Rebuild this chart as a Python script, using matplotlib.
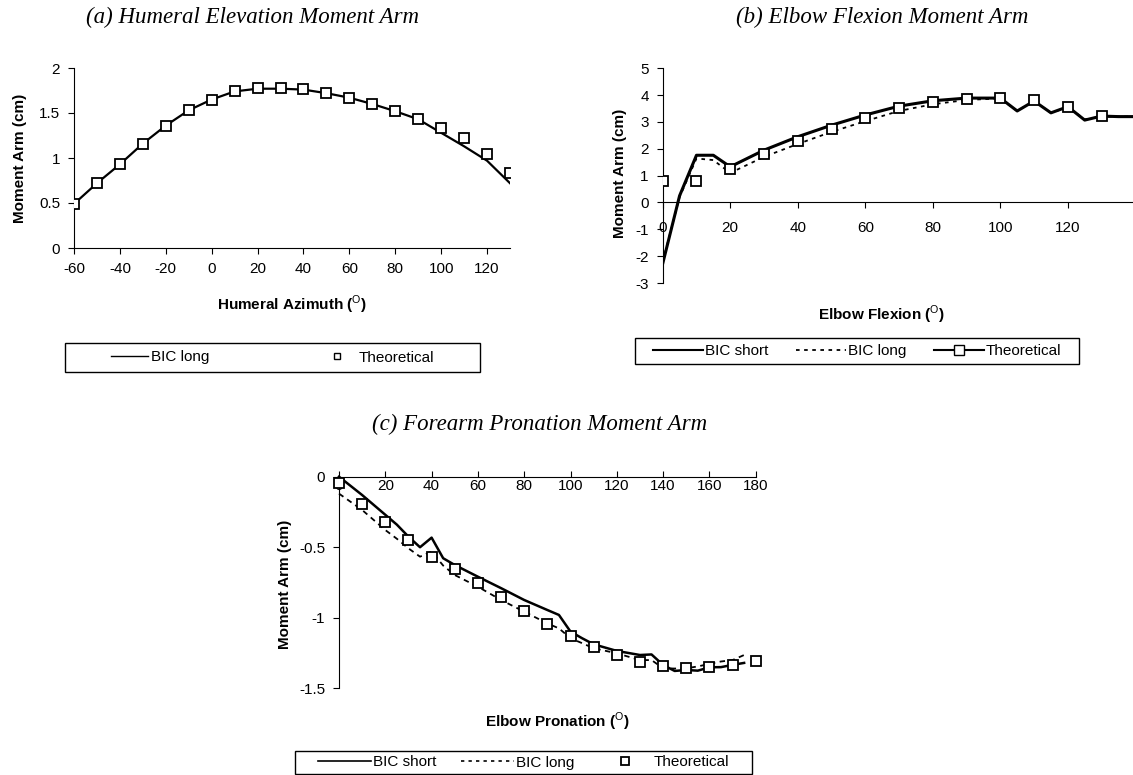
import matplotlib.pyplot as plt
from matplotlib.lines import Line2D
from matplotlib.patches import Rectangle

plt.rcParams["font.family"] = ["Liberation Sans", "DejaVu Sans"]
plt.rcParams["axes.unicode_minus"] = False
plt.rcParams["mathtext.fontset"] = "custom"
plt.rcParams["mathtext.rm"] = "Liberation Sans"
plt.rcParams["mathtext.bf"] = "Liberation Sans:bold"

# (a) humeral elevation
azim = [-60, -50, -40, -30, -20, -10, 0, 10, 20, 30, 40, 50, 60, 70, 80, 90, 100, 110, 120, 130]
azim_bic_long = [0.49, 0.72, 0.93, 1.16, 1.36, 1.53, 1.65, 1.74, 1.77, 1.77, 1.76, 1.72, 1.67,
                 1.60, 1.52, 1.43, 1.28, 1.13, 0.97, 0.72]
azim_theory = [0.49, 0.72, 0.93, 1.16, 1.36, 1.53, 1.65, 1.74, 1.78, 1.78, 1.77, 1.72, 1.67,
               1.60, 1.52, 1.43, 1.33, 1.22, 1.04, 0.83]

# (b) elbow flexion
flex_sim = [0, 5, 10, 15, 20, 30, 40, 50, 60, 70, 80, 90, 95, 100, 105, 110, 115, 120, 125, 130, 135, 140]
flex_bic_short = [-2.28, 0.25, 1.76, 1.76, 1.33, 1.95, 2.45, 2.88, 3.26, 3.59, 3.79, 3.89, 3.89,
                  3.89, 3.41, 3.78, 3.34, 3.57, 3.07, 3.22, 3.2, 3.2]
flex_bic_long = [-2.2, 0.2, 1.64, 1.58, 1.10, 1.70, 2.18, 2.63, 3.03, 3.41, 3.66, 3.82, 3.85,
                 3.87, 3.41, 3.78, 3.34, 3.55, 3.10, 3.20, 3.2, 3.2]
flex = [0, 10, 20, 30, 40, 50, 60, 70, 80, 90, 100, 110, 120, 130]
flex_theory = [0.81, 0.81, 1.23, 1.79, 2.29, 2.73, 3.16, 3.51, 3.73, 3.87, 3.89, 3.81, 3.57, 3.22]

# (c) forearm pronation
pron_sim = [0, 10, 20, 25, 30, 35, 40, 45, 50, 60, 70, 80, 90, 95, 100, 105, 110, 120, 130, 135,
            140, 145, 150, 155, 160, 165, 170, 175]
pron_bic_short = [0.0, -0.13, -0.27, -0.34, -0.425, -0.50, -0.432, -0.578, -0.626, -0.709, -0.79,
                  -0.874, -0.945, -0.98, -1.098, -1.145, -1.188, -1.235, -1.264, -1.26, -1.335,
                  -1.377, -1.37, -1.375, -1.351, -1.35, -1.334, -1.32]
pron_bic_long = [-0.12, -0.236, -0.378, -0.44, -0.508, -0.567, -0.53, -0.63, -0.697, -0.78, -0.874,
                 -0.957, -1.04, -1.075, -1.145, -1.18, -1.216, -1.252, -1.30, -1.30, -1.358,
                 -1.36, -1.358, -1.345, -1.327, -1.31, -1.30, -1.264]
pron = [0, 10, 20, 30, 40, 50, 60, 70, 80, 90, 100, 110, 120, 130, 140, 150, 160, 170, 180]
pron_theory = [-0.047, -0.19, -0.32, -0.45, -0.567, -0.654, -0.75, -0.85, -0.95, -1.044, -1.129,
               -1.205, -1.264, -1.311, -1.34, -1.353, -1.346, -1.334, -1.306]

W, H = 1133, 775
fig = plt.figure(figsize=(W / 100, H / 100), dpi=100)


def add_ax(left, top, right, bottom):
    return fig.add_axes([left / W, 1 - bottom / H, (right - left) / W, (bottom - top) / H])


def style(ax):
    ax.spines["top"].set_visible(False)
    ax.spines["right"].set_visible(False)
    ax.tick_params(labelsize=11, length=4, width=0.8, direction="out", pad=6)


def fig_text(x, y, s, **kw):
    fig.text(x / W, 1 - y / H, s, ha="center", va="center", **kw)


def boxed_legend(ax, handles, labels, left, top, right, bottom, **kw):
    # legend without frame centred in a plain rectangle, like the Excel legend box
    fig.add_artist(Rectangle((left / W, 1 - bottom / H), (right - left) / W, (bottom - top) / H,
                             transform=fig.transFigure, fill=False, edgecolor="black", lw=1))
    ax.legend(handles, labels, ncol=len(labels), loc="center",
              bbox_to_anchor=((left + right) / 2 / W, 1 - (top + bottom) / 2 / H),
              bbox_transform=fig.transFigure, frameon=False, fontsize=11,
              borderaxespad=0, borderpad=0, **kw)


title_kw = dict(family="Liberation Serif", style="italic", fontsize=16.5)
label_kw = dict(fontsize=11, fontweight="bold")
sq = dict(marker="s", markersize=7, markerfacecolor="white", markeredgecolor="black",
          markeredgewidth=1.3)
dotted = (0, (2, 2.5))

# ---- (a)
ax1 = add_ax(74, 68, 510, 248)
style(ax1)
ax1.plot(azim, azim_bic_long, color="black", lw=1.6)
ax1.plot(azim, azim_theory, linestyle="none", zorder=3, **sq)
ax1.set_xlim(-60, 130)
ax1.set_ylim(0, 2)
ax1.set_xticks([-60, -40, -20, 0, 20, 40, 60, 80, 100, 120])
ax1.set_yticks([0, 0.5, 1, 1.5, 2], ["0", "0.5", "1", "1.5", "2"])
fig_text(252, 17, "(a) Humeral Elevation Moment Arm", **title_kw)
fig_text(20, 158, "Moment Arm (cm)", rotation=90, **label_kw)
fig_text(292, 305, r"Humeral Azimuth ($^{\mathrm{O}}$)", **label_kw)
h_a = [Line2D([], [], color="black", lw=1),
       Line2D([], [], linestyle="none", marker="s", markersize=5, markerfacecolor="white",
              markeredgecolor="black")]
boxed_legend(ax1, h_a, ["BIC long", "Theoretical"], 65, 343, 480, 372,
             handlelength=2.4, handletextpad=0.2, columnspacing=7.2)

# ---- (b)
ax2 = add_ax(662.7, 68.3, 1133, 283)
style(ax2)
ax2.spines["bottom"].set_position(("data", 0))
ax2.plot(flex_sim, flex_bic_short, color="black", lw=2.2)
ax2.plot(flex_sim, flex_bic_long, color="black", lw=1.3, linestyle=dotted)
ax2.plot(flex, flex_theory, linestyle="none", zorder=3, **sq)
ax2.set_xlim(0, 139.3)
ax2.set_ylim(-3, 5)
ax2.set_xticks([0, 20, 40, 60, 80, 100, 120])
ax2.set_yticks([-3, -2, -1, 0, 1, 2, 3, 4, 5])
ax2.tick_params(axis="x", pad=9)
fig_text(882, 17, "(b) Elbow Flexion Moment Arm", **title_kw)
fig_text(620, 173, "Moment Arm (cm)", rotation=90, **label_kw)
fig_text(882, 315, r"Elbow Flexion ($^{\mathrm{O}}$)", **label_kw)
h_b = [Line2D([], [], color="black", lw=1.5),
       Line2D([], [], color="black", lw=1.3, linestyle=dotted),
       Line2D([], [], color="black", lw=1.5, marker="s", markersize=7, markerfacecolor="white",
              markeredgecolor="black")]
boxed_legend(ax2, h_b, ["BIC short", "BIC long", "Theoretical"], 635, 338, 1079, 364,
             handlelength=3.3, handletextpad=0.1, columnspacing=1.8)

# ---- (c)
ax3 = add_ax(339, 476.7, 755.7, 688.3)
style(ax3)
ax3.spines["bottom"].set_position(("data", 0))
ax3.plot(pron_sim, pron_bic_short, color="black", lw=1.8, clip_on=False)
ax3.plot(pron_sim, pron_bic_long, color="black", lw=1.3, linestyle=(0, (3, 2.5)), clip_on=False)
ax3.plot(pron, pron_theory, linestyle="none", zorder=3, clip_on=False, **sq)
ax3.set_xlim(0, 180)
ax3.set_ylim(-1.5, 0)
ax3.set_xticks([0, 20, 40, 60, 80, 100, 120, 140, 160, 180])
ax3.set_yticks([-1.5, -1, -0.5, 0], ["-1.5", "-1", "-0.5", "0"])
ax3.tick_params(axis="x", direction="in", pad=2)
fig_text(540, 424, "(c) Forearm Pronation Moment Arm", **title_kw)
fig_text(285, 584, "Moment Arm (cm)", rotation=90, **label_kw)
fig_text(557, 722, r"Elbow Pronation ($^{\mathrm{O}}$)", **label_kw)
h_c = [Line2D([], [], color="black", lw=1.2),
       Line2D([], [], color="black", lw=1.2, linestyle=dotted),
       Line2D([], [], linestyle="none", marker="s", markersize=6, markerfacecolor="white",
              markeredgecolor="black", markeredgewidth=1.3)]
boxed_legend(ax3, h_c, ["BIC short", "BIC long", "Theoretical"], 295, 751, 752, 774,
             handlelength=3.5, handletextpad=0.1, columnspacing=1.6)

fig.savefig("out.png", dpi=100)
